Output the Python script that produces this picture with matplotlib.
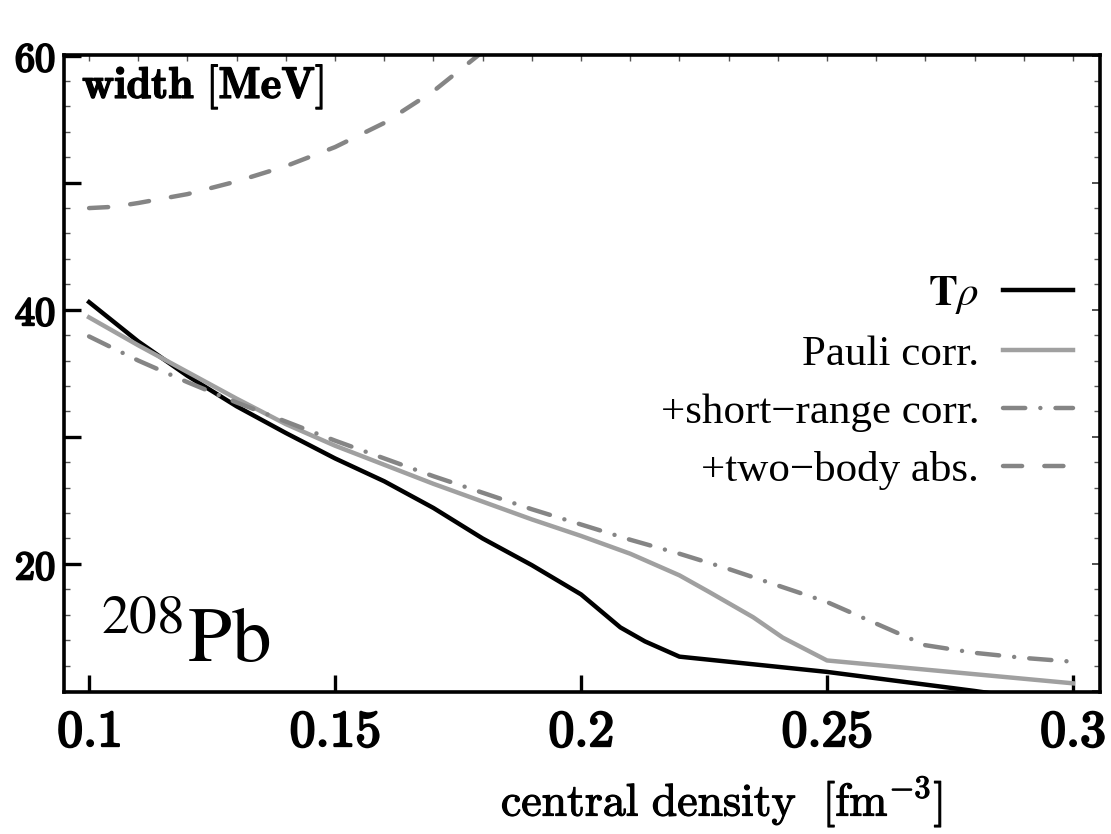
import numpy as np
import matplotlib
matplotlib.use("Agg")
import matplotlib.pyplot as plt
import matplotlib.patheffects as pe
from matplotlib.font_manager import FontProperties
from matplotlib.ticker import MultipleLocator, NullFormatter

plt.rcParams['mathtext.fontset'] = 'cm'

#%% data

# T rho
dens_t = [0.1, 0.11, 0.12, 0.13, 0.14, 0.15, 0.16, 0.17, 0.18, 0.19, 0.2,
          0.208, 0.213, 0.22, 0.25, 0.28, 0.3]
width_t = [40.6, 37.5, 34.8, 32.4, 30.3, 28.3, 26.5, 24.4, 22.0, 19.9, 17.6,
           15.0, 13.9, 12.7, 11.5, 10.0, 8.9]

# Pauli corr.
dens_p = [0.1, 0.11, 0.12, 0.13, 0.14, 0.15, 0.16, 0.17, 0.18, 0.19, 0.2,
          0.21, 0.22, 0.226, 0.235, 0.241, 0.25, 0.3]
width_p = [39.4, 37.2, 35.1, 33.0, 31.0, 29.3, 27.8, 26.3, 24.9, 23.5, 22.2,
           20.8, 19.1, 17.8, 15.8, 14.2, 12.4, 10.6]

# +short-range corr.
dens_s = [0.1, 0.11, 0.12, 0.13, 0.14, 0.15, 0.16, 0.17, 0.18, 0.19, 0.2,
          0.21, 0.22, 0.23, 0.24, 0.25, 0.26, 0.27, 0.28, 0.29, 0.3]
width_s = [37.9, 36.0, 34.3, 32.7, 31.2, 29.7, 28.3, 26.9, 25.6, 24.3, 23.1,
           21.9, 20.8, 19.6, 18.3, 17.0, 15.3, 13.6, 13.0, 12.6, 12.3]

# +two-body abs.
dens_a = [0.1, 0.105, 0.11, 0.12, 0.13, 0.14, 0.15, 0.16, 0.17, 0.18]
width_a = [48.0, 48.1, 48.4, 49.1, 50.1, 51.3, 52.8, 54.7, 57.2, 60.3]

labels = [r'$\mathbf{T}\rho$', 'Pauli corr.', '+short\u2212range corr.',
          '+two\u2212body abs.']

xticks = [0.1, 0.15, 0.2, 0.25, 0.3]
xtick_labels = ['0.1', '0.15', '0.2', '0.25', '0.3']
yticks = [20, 30, 40, 50, 60]
ytick_labels = ['20', '', '40', '', '60']

#%% figure

fig = plt.figure(figsize=(11.11, 8.34), dpi=100)
ax = fig.add_axes([0.0576, 0.1703, 0.9325, 0.7638])

lw = 3.2
ax.plot(dens_t, width_t, color='black', lw=lw, label=labels[0])
ax.plot(dens_p, width_p, color='#a0a0a0', lw=lw, label=labels[1])
ax.plot(dens_s, width_s, color='#858585', lw=lw, ls=(0, (5, 3.4, 0.01, 3.4)),
        dash_capstyle='round', label=labels[2])
ax.plot(dens_a, width_a, color='#858585', lw=lw, ls=(0, (4.3, 5.0)),
        dash_capstyle='round', label=labels[3])

ax.set_xlim(0.0949, 0.3055)
ax.set_ylim(9.92, 60.05)

for s in ax.spines.values():
    s.set_linewidth(2.6)

bold = [pe.withStroke(linewidth=1.6, foreground='black')]

ax.set_xticks(xticks, [r'$\mathbf{%s}$' % t for t in xtick_labels])
ax.set_yticks(yticks, [r'$\mathbf{%s}$' % t if t else '' for t in ytick_labels])
for t in ax.get_xticklabels() + ax.get_yticklabels():
    t.set_path_effects(bold)
ax.yaxis.set_minor_locator(MultipleLocator(2))
ax.tick_params(axis='x', which='major', direction='in', length=12, width=2.4,
               top=False, labelsize=37, pad=11)
ax.tick_params(axis='y', which='major', direction='in', length=12, width=2.4,
               right=False, labelsize=29, pad=6)
ax.tick_params(axis='y', which='minor', direction='in', length=4, width=1,
               color='#555555', right=False)

# top and right frame ticks
top = ax.secondary_xaxis('top')
top.xaxis.set_major_locator(MultipleLocator(0.01))
top.xaxis.set_major_formatter(NullFormatter())
top.tick_params(direction='in', length=4, width=1, color='#555555')
top.spines['top'].set_visible(False)

right = ax.secondary_yaxis('right')
right.yaxis.set_major_locator(MultipleLocator(10))
right.yaxis.set_minor_locator(MultipleLocator(2))
right.yaxis.set_major_formatter(NullFormatter())
right.tick_params(which='major', direction='in', length=6, width=1.2, color='#333333')
right.tick_params(which='minor', direction='in', length=4, width=1, color='#555555')
right.spines['right'].set_visible(False)

ax.text(0.0174, 0.9325, r'$\mathbf{width\ [MeV]}$', transform=ax.transAxes,
        fontsize=32, va='baseline', ha='left',
        path_effects=[pe.withStroke(linewidth=0.9, foreground='black')])

ax.set_xlabel(r'$\mathrm{central\ density\ \ [fm^{-3}]}$', fontsize=33,
              path_effects=[pe.withStroke(linewidth=0.8, foreground='black')])
ax.xaxis.set_label_coords(0.635, -0.128)

ax.text(0.035, 0.047, r'$^{208}\mathrm{Pb}$', transform=ax.transAxes,
        fontsize=57, va='baseline', ha='left', math_fontfamily='stix')

prop = FontProperties(family='Liberation Serif', size=31, math_fontfamily='stix')
ax.legend(loc='upper right', bbox_to_anchor=(0.974, 0.656), prop=prop,
          frameon=False, markerfirst=False, borderpad=0, borderaxespad=0,
          handlelength=1.63, handletextpad=0.55, labelspacing=0.44)

fig.savefig('out.png', dpi=100)
